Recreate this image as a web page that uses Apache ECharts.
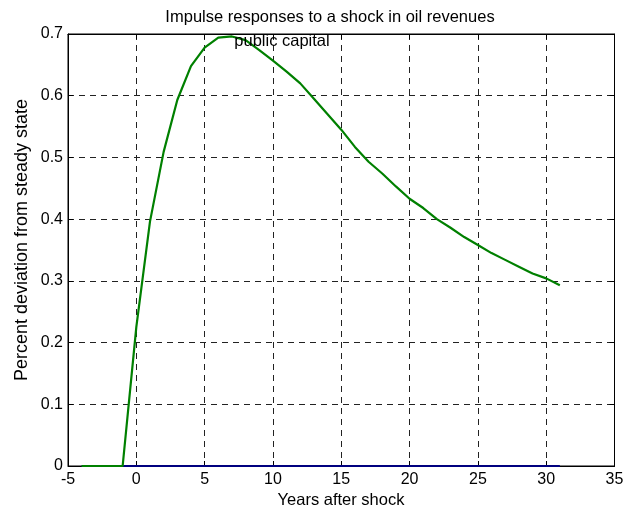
<!DOCTYPE html>
<html><head><meta charset="utf-8">
<script src="https://cdn.jsdelivr.net/npm/echarts@6/dist/echarts.min.js"></script>
<style>html,body{margin:0;padding:0;background:#fff}#c{width:642px;height:514px}</style>
</head><body><div id="c"></div>
<script>
const years = [-4,-3,-2,-1,0,1,2,3,4,5,6,7,8,9,10,11,12,13,14,15,16,17,18,19,20,21,22,23,24,25,26,27,28,29,30,31];
const publicCapital = [0,0,0,0,0.225,0.396,0.509,0.593,0.648,0.678,0.694,0.696,0.690,0.674,0.657,0.639,0.620,0.595,0.570,0.545,0.517,0.493,0.474,0.453,0.433,0.418,0.400,0.386,0.371,0.358,0.345,0.334,0.323,0.312,0.304,0.293];
const baseline = [0,0,0,0,0,0,0,0,0,0,0,0,0,0,0,0,0,0,0,0,0,0,0,0,0,0,0,0,0,0,0,0,0,0,0,0];
const xTicks = {min:-5, max:35, step:5};
const yTicks = {min:0, max:0.7, step:0.1};
const titleText = "Impulse responses to a shock in oil revenues";
const subTitleText = "public capital";
const xLabel = "Years after shock";
const yLabel = "Percent deviation from steady state";

const font = "Liberation Sans, Arial, sans-serif";
const chart = echarts.init(document.getElementById('c'), null, {renderer:'canvas'});
const dash = {type:[6,5], color:'#222', width:1};
const txt = {fontFamily:font, fontSize:16, color:'#000'};
chart.setOption({
  animation:false,
  backgroundColor:'#fff',
  title:[
    {text:titleText, left:325, top:4, textAlign:'center', textStyle:{fontFamily:font, fontSize:16.5, color:'#000', fontWeight:'normal'}},
    {text:subTitleText, left:277, top:28, textAlign:'center', textStyle:{fontFamily:font, fontSize:16.5, color:'#000', fontWeight:'normal'}, z:10}
  ],
  graphic:[
    {type:'text', x:22, y:240, rotation:Math.PI/2, z:10,
     style:{text:yLabel, align:'center', verticalAlign:'middle', fill:'#000', font:'18px ' + font}},
    {type:'text', x:341, y:500, z:10,
     style:{text:xLabel, align:'center', verticalAlign:'middle', fill:'#000', font:'16.5px ' + font}}
  ],
  grid:{left:68, right:27.5, top:34, bottom:48, show:true, borderColor:'#000', borderWidth:1, backgroundColor:'#fff'},
  xAxis:[
    {type:'value', min:xTicks.min, max:xTicks.max, interval:xTicks.step, position:'bottom',
     axisLine:{show:true, onZero:false, lineStyle:{color:'#000', width:1}},
     axisTick:{show:true, inside:true, length:5, lineStyle:{color:'#000'}},
     axisLabel:Object.assign({margin:6}, txt),
     splitLine:{show:true, lineStyle:dash}},
    {type:'value', min:xTicks.min, max:xTicks.max, interval:xTicks.step, position:'top',
     axisLine:{show:true, onZero:false, lineStyle:{color:'#000'}},
     axisTick:{show:true, inside:true, length:5, lineStyle:{color:'#000'}},
     axisLabel:{show:false}, splitLine:{show:false}}
  ],
  yAxis:[
    {type:'value', min:yTicks.min, max:yTicks.max, interval:yTicks.step, position:'left',
     axisLine:{show:true, onZero:false, lineStyle:{color:'#000', width:1}},
     axisTick:{show:true, inside:true, length:5, lineStyle:{color:'#000'}},
     axisLabel:Object.assign({margin:5, formatter:v=>String(+v.toFixed(2))}, txt),
     splitLine:{show:true, lineStyle:dash}},
    {type:'value', min:yTicks.min, max:yTicks.max, interval:yTicks.step, position:'right',
     axisLine:{show:true, onZero:false, lineStyle:{color:'#000'}},
     axisTick:{show:true, inside:true, length:5, lineStyle:{color:'#000'}},
     axisLabel:{show:false}, splitLine:{show:false}}
  ],
  series:[
    {type:'line', data:years.map((x,i)=>[x, baseline[i]]), showSymbol:false, lineStyle:{color:'#00007f', width:2}, z:2},
    {type:'line', data:years.map((x,i)=>[x, publicCapital[i]]), showSymbol:false, lineStyle:{color:'#008000', width:2.2}, z:3}
  ]
});
</script></body></html>
